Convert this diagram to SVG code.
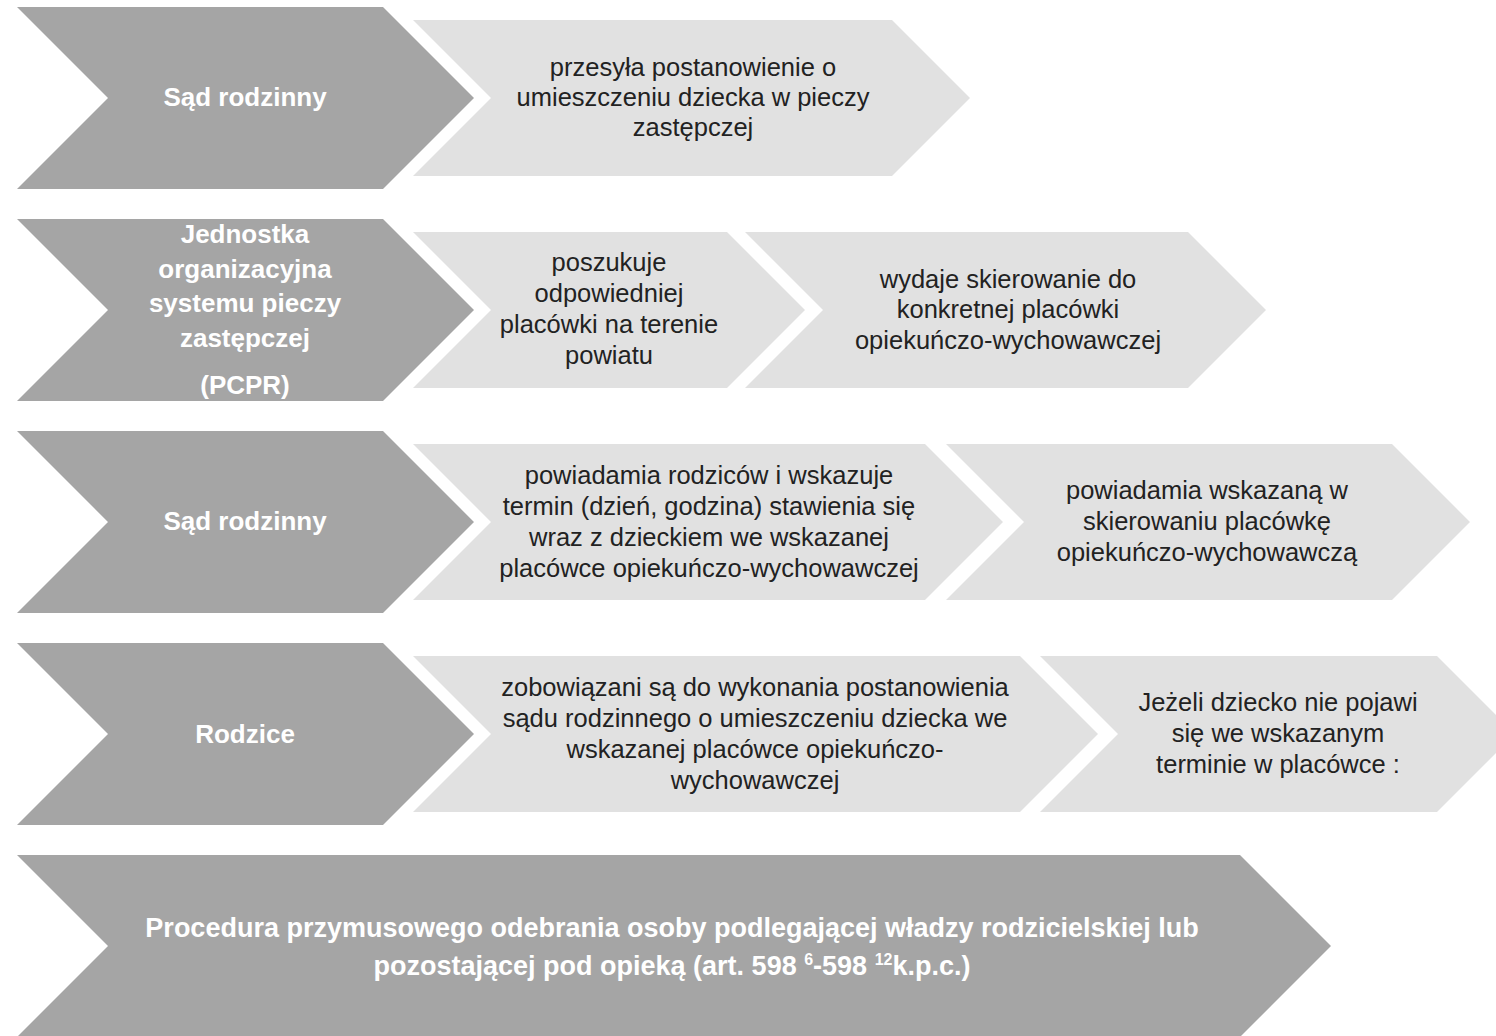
<svg xmlns="http://www.w3.org/2000/svg" width="1496" height="1036" viewBox="0 0 1496 1036">
<style>
.dark{fill:#a5a5a5}
.light{fill:#e1e1e1}
.dt{font-family:"Liberation Sans",Arial,sans-serif;font-weight:bold;font-size:26px;fill:#ffffff;text-anchor:middle}
.lt{font-family:"Liberation Sans",Arial,sans-serif;font-size:25.5px;fill:#222222;text-anchor:middle}
.big{font-family:"Liberation Sans",Arial,sans-serif;font-weight:bold;font-size:27px;fill:#ffffff;text-anchor:middle}
</style>
<rect width="1496" height="1036" fill="#ffffff"/>
<g id="row1-actor">
<polygon class="dark" points="17,7 383,7 474,98 383,189 17,189 108,98"/>
<text class="dt" x="245" y="106">Sąd rodzinny</text>
</g>
<g id="row1-step1">
<polygon class="light" points="413,20 892,20 970,98 892,176 413,176 491,98"/>
<text class="lt" x="693" y="76">przesyła postanowienie o</text>
<text class="lt" x="693" y="106">umieszczeniu dziecka w pieczy</text>
<text class="lt" x="693" y="136">zastępczej</text>
</g>
<g id="row2-actor">
<polygon class="dark" points="17,219 383,219 474,310 383,401 17,401 108,310"/>
<text class="dt" x="245" y="243">Jednostka</text>
<text class="dt" x="245" y="278">organizacyjna</text>
<text class="dt" x="245" y="312">systemu pieczy</text>
<text class="dt" x="245" y="347">zastępczej</text>
<text class="dt" x="245" y="394">(PCPR)</text>
</g>
<g id="row2-step1">
<polygon class="light" points="413,232 727,232 805,310 727,388 413,388 491,310"/>
<text class="lt" x="609" y="271">poszukuje</text>
<text class="lt" x="609" y="302">odpowiedniej</text>
<text class="lt" x="609" y="333">placówki na terenie</text>
<text class="lt" x="609" y="364">powiatu</text>
</g>
<g id="row2-step2">
<polygon class="light" points="745,232 1188,232 1266,310 1188,388 745,388 823,310"/>
<text class="lt" x="1008" y="288">wydaje skierowanie do</text>
<text class="lt" x="1008" y="318">konkretnej placówki</text>
<text class="lt" x="1008" y="349">opiekuńczo-wychowawczej</text>
</g>
<g id="row3-actor">
<polygon class="dark" points="17,431 383,431 474,522 383,613 17,613 108,522"/>
<text class="dt" x="245" y="530">Sąd rodzinny</text>
</g>
<g id="row3-step1">
<polygon class="light" points="413,444 925,444 1003,522 925,600 413,600 491,522"/>
<text class="lt" x="709" y="484">powiadamia rodziców i wskazuje</text>
<text class="lt" x="709" y="515">termin (dzień, godzina) stawienia się</text>
<text class="lt" x="709" y="546">wraz z dzieckiem we wskazanej</text>
<text class="lt" x="709" y="577">placówce opiekuńczo-wychowawczej</text>
</g>
<g id="row3-step2">
<polygon class="light" points="946,444 1392,444 1470,522 1392,600 946,600 1024,522"/>
<text class="lt" x="1207" y="499">powiadamia wskazaną w</text>
<text class="lt" x="1207" y="530">skierowaniu placówkę</text>
<text class="lt" x="1207" y="561">opiekuńczo-wychowawczą</text>
</g>
<g id="row4-actor">
<polygon class="dark" points="17,643 383,643 474,734 383,825 17,825 108,734"/>
<text class="dt" x="245" y="743">Rodzice</text>
</g>
<g id="row4-step1">
<polygon class="light" points="413,656 1020,656 1098,734 1020,812 413,812 491,734"/>
<text class="lt" x="755" y="696">zobowiązani są do wykonania postanowienia</text>
<text class="lt" x="755" y="727">sądu rodzinnego o umieszczeniu dziecka we</text>
<text class="lt" x="755" y="758">wskazanej placówce opiekuńczo-</text>
<text class="lt" x="755" y="789">wychowawczej</text>
</g>
<g id="row4-step2">
<polygon class="light" points="1040,656 1437,656 1515,734 1437,812 1040,812 1118,734"/>
<text class="lt" x="1278" y="711">Jeżeli dziecko nie pojawi</text>
<text class="lt" x="1278" y="742">się we wskazanym</text>
<text class="lt" x="1278" y="773">terminie w placówce :</text>
</g>
<g id="row5-procedure">
<polygon class="dark" points="17,855 1240,855 1331,946 1240,1037 17,1037 108,946"/>
<text class="big" x="672" y="937">Procedura przymusowego odebrania osoby podlegającej władzy rodzicielskiej lub</text>
<text class="big" x="672" y="975">pozostającej pod opieką (art. 598 <tspan font-size="16" dy="-10">6</tspan><tspan dy="10">-598 </tspan><tspan font-size="16" dy="-10">12</tspan><tspan dy="10">k.p.c.)</tspan></text>
</g>
<g id="connectors"></g>
</svg>
